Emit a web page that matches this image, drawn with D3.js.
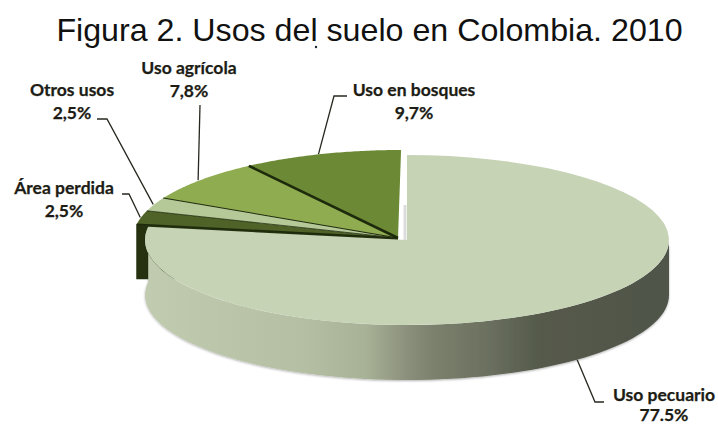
<!DOCTYPE html>
<html lang="es">
<head>
<meta charset="utf-8">
<script src="https://cdn.jsdelivr.net/npm/d3@7/dist/d3.min.js"></script>
<style>
  html, body { margin: 0; padding: 0; background: #fff; }
  svg { display: block; }
  .title { font-family: "Liberation Sans", Arial, sans-serif; font-size: 32.2px; fill: #111; }
  .lab { font-family: Lato, "Open Sans", sans-serif; font-weight: 700; font-size: 17.5px; fill: #1c1c14; stroke: #1c1c14; stroke-width: 0.25; text-anchor: middle; }
</style>
</head>
<body>
<svg id="chart" width="718" height="425"></svg>
<script>
// Land use shares, clockwise from twelve o'clock
const categories = ["Uso pecuario", "Área perdida", "Otros usos", "Uso agrícola", "Uso en bosques"];
const shares = [77.5, 2.5, 2.5, 7.8, 9.7];
const shareLabels = ["77.5%", "2,5%", "2,5%", "7,8%", "9,7%"];
const topColors = ["#c6d3b5", "#4f6228", "#b5c898", "#8fad50", "#6c8a35"];
const seamWidths = [0, 0.8, 0.8, 1, 2.6];
const chartTitle = "Figura 2. Usos del suelo en Colombia. 2010";

const svg = d3.select("#chart");
const defs = svg.append("defs");

// Tilted disc geometry
const mainRx = 262, ry = 85, depth = 55;
const mainCentre = [407, 240];   // the large slice is pulled out from the rest
const restCentre = [398, 238];
const restRx = 265, restRy = 88;

const pie = d3.pie().sort(null).value(d => d).startAngle(0).endAngle(2 * Math.PI);
const slices = pie(shares);

// Point on a tilted disc; angle measured clockwise from the top
const onRim = (a, c, xr, yr) => [c[0] + xr * Math.sin(a), c[1] - yr * Math.cos(a)];

function sector(s, c, xr, yr) {
  const pts = d3.range(0, 61).map(i => onRim(s.startAngle + (s.endAngle - s.startAngle) * i / 60, c, xr, yr));
  return d3.line()([c, ...pts, c]);
}

function wall(a0, a1, c, xr, yr) {
  const top = d3.range(0, 81).map(i => onRim(a0 + (a1 - a0) * i / 80, c, xr, yr));
  const bottom = top.slice().reverse().map(p => [p[0], p[1] + depth]);
  return d3.line()([...top, ...bottom]) + "Z";
}

// Horizontal shading along the rim of the large slice
const wallShade = defs.append("linearGradient")
  .attr("id", "wallShade").attr("gradientUnits", "userSpaceOnUse")
  .attr("x1", mainCentre[0] - mainRx).attr("x2", mainCentre[0] + mainRx).attr("y1", 0).attr("y2", 0);
[[0, "#c0cbb0"], [0.3, "#b4bfa4"], [0.42, "#a8b296"], [0.5, "#8b907c"], [0.55, "#7b816d"],
 [0.65, "#6c7160"], [0.75, "#555a4b"], [1, "#4f544a"]].forEach(([o, c]) =>
  wallShade.append("stop").attr("offset", o).attr("stop-color", c));

const soft = defs.append("filter").attr("id", "soft")
  .attr("x", "-5%").attr("y", "-5%").attr("width", "110%").attr("height", "115%");
soft.append("feDropShadow").attr("dx", 0).attr("dy", 1).attr("stdDeviation", 1.2)
  .attr("flood-color", "#000").attr("flood-opacity", 0.3);

svg.append("text").attr("class", "title")
  .attr("x", 369.5).attr("y", 41).attr("text-anchor", "middle").text(chartTitle);
svg.append("circle").attr("cx", 316).attr("cy", 47).attr("r", 1.2).attr("fill", "#1a2430");

// Dark rim of the detached group, running in behind the large slice
const lost = slices[1];
const lostEdge = onRim(lost.startAngle, restCentre, restRx, restRy);
svg.append("path").attr("fill", "#26320f")
  .attr("d", d3.line()([lostEdge, restCentre,
    [restCentre[0], lostEdge[1] + depth], [lostEdge[0], lostEdge[1] + depth]]) + "Z");

// Faint shadow on the cut face next to the gap
svg.append("line")
  .attr("x1", mainCentre[0] - 2).attr("x2", mainCentre[0] - 2)
  .attr("y1", mainCentre[1] - 35).attr("y2", mainCentre[1])
  .attr("stroke", "#dcdcdc").attr("stroke-width", 3);

// Detached slices, leaning slightly towards the gap
const small = svg.append("g")
  .attr("transform", `translate(${restCentre}) skewX(-2) translate(${restCentre.map(v => -v)})`);
slices.slice(1).forEach((s, i) => {
  small.append("path").attr("d", sector(s, restCentre, restRx, restRy)).attr("fill", topColors[i + 1]);
  const edge = onRim(s.startAngle, restCentre, restRx, restRy);
  small.append("line")
    .attr("x1", restCentre[0]).attr("y1", restCentre[1])
    .attr("x2", edge[0]).attr("y2", edge[1])
    .attr("stroke", "#1e2a0c").attr("stroke-width", i === 0 ? 1.6 : seamWidths[i + 1]);
});

// Large slice: rim first, then the top face
const main = slices[0];
svg.append("path").attr("fill", "url(#wallShade)").attr("filter", "url(#soft)")
  .attr("d", wall(Math.PI / 2, main.endAngle, mainCentre, mainRx, ry));
svg.append("path").attr("d", sector(main, mainCentre, mainRx, ry)).attr("fill", topColors[0]);

// Leader lines start on the rim at each slice's mid angle
const leaders = [
  { i: 0, c: mainCentre, xr: mainRx, yr: ry, drop: depth, via: [[595, 402], [604, 402]] },
  { i: 1, c: restCentre, xr: restRx, yr: restRy, drop: 0, via: [[129, 194], [122, 194]] },
  { i: 2, c: restCentre, xr: restRx, yr: restRy, drop: 0, via: [[107, 119], [97, 119]] },
  { i: 3, c: restCentre, xr: restRx, yr: restRy, drop: 0, via: [[200, 105]] },
  { i: 4, c: restCentre, xr: restRx, yr: restRy, drop: 0, via: [[334, 96], [347, 96]] }
];
leaders.forEach(l => {
  const s = slices[l.i];
  const p = onRim((s.startAngle + s.endAngle) / 2, l.c, l.xr, l.yr);
  svg.append("path").attr("fill", "none").attr("stroke", "#26281f").attr("stroke-width", 1.3)
    .attr("d", d3.line()([[p[0], p[1] + l.drop], ...l.via]));
});

// Category and share captions
const captionAt = [[664, 401], [64, 194], [72, 96], [189, 74], [414, 96]];
const captionGap = [20, 23, 23, 23, 23];
slices.forEach((s, i) => {
  const t = svg.append("text").attr("class", "lab")
    .attr("x", captionAt[i][0]).attr("y", captionAt[i][1]);
  t.append("tspan").attr("x", captionAt[i][0]).text(categories[i]);
  t.append("tspan").attr("x", captionAt[i][0]).attr("dy", captionGap[i]).text(shareLabels[i]);
});
</script>
</body>
</html>
